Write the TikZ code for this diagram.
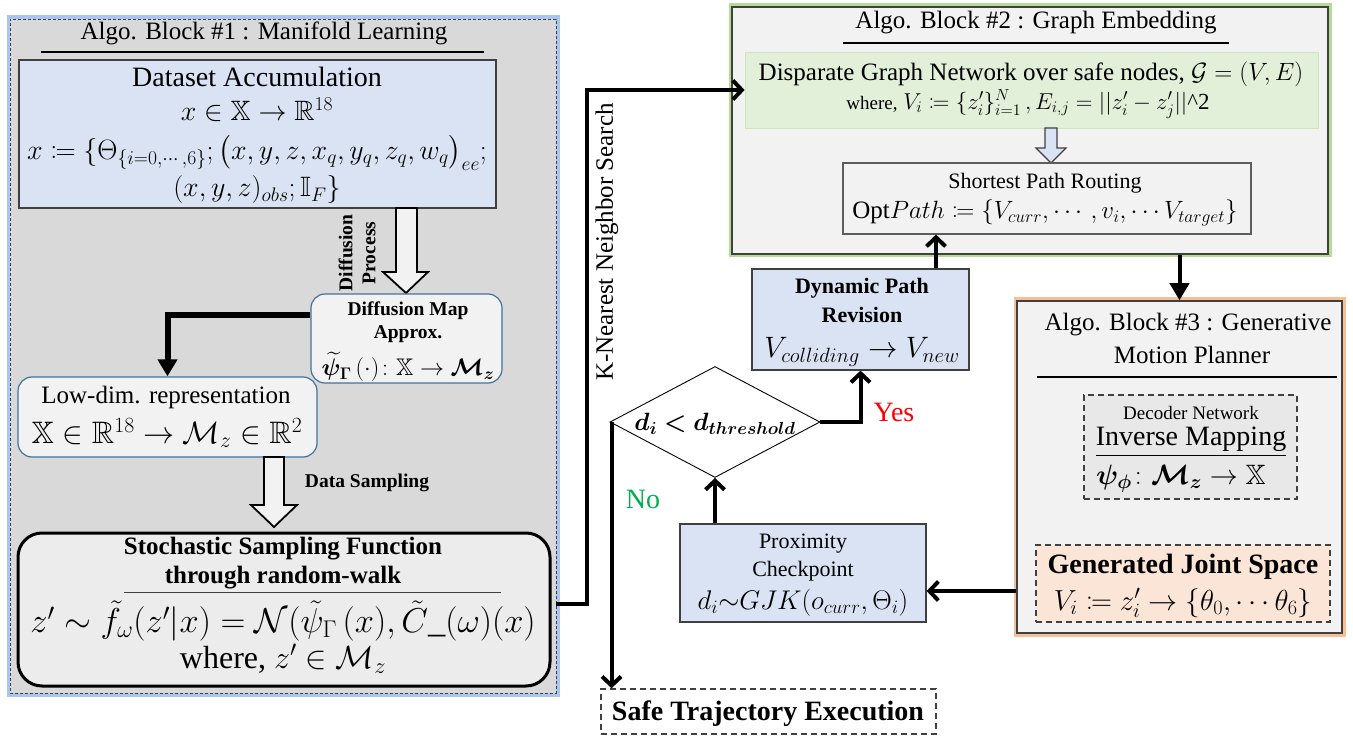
\RequirePackage{fix-cm}
\documentclass[tikz,border=0pt]{standalone}
\usepackage{amsmath,amssymb,mathtools,bm}
\usepackage{fontspec}
\setmainfont{Liberation Serif}
\usetikzlibrary{arrows.meta,shapes.geometric,calc}

\definecolor{panelgray}{HTML}{D9D9D9}
\definecolor{lightpanel}{HTML}{F2F2F2}
\definecolor{samplegray}{HTML}{ECECEC}
\definecolor{decodergray}{HTML}{E8E8E8}
\definecolor{paleblue}{HTML}{DAE3F3}
\definecolor{palegreen}{HTML}{E2EFD9}
\definecolor{greenedge}{HTML}{D0E4C0}
\definecolor{paleorange}{HTML}{FBE5D6}
\definecolor{edgeblue}{HTML}{41719C}
\definecolor{glowblue}{HTML}{A9C6F0}
\definecolor{glowgreen}{HTML}{B4DC96}
\definecolor{gloworange}{HTML}{F8BE96}
\definecolor{darkedge}{HTML}{404040}
\definecolor{yesred}{HTML}{FF0000}
\definecolor{nogreen}{HTML}{00B050}

\newcommand{\fsz}[1]{\fontsize{#1}{#1}\selectfont}

\begin{document}
\begin{tikzpicture}[x=1pt,y=-1pt,
  txt/.style={inner sep=0pt, anchor=center},
  box/.style={draw=darkedge, line width=1.2pt, inner sep=0pt},
  softbox/.style={draw=edgeblue, line width=1.2pt, inner sep=0pt, rounded corners=14pt, fill=lightpanel},
  panel/.style={draw=darkedge, line width=1.5pt, inner sep=0pt, fill=lightpanel},
  dashbox/.style={draw=darkedge, line width=1.5pt, dash pattern=on 6pt off 4pt, inner sep=0pt},
  hollowarrow/.style={draw=black, line width=1.8pt, fill=lightpanel, line join=miter},
  conn/.style={draw=black, line width=4pt},
  barb/.style={-{Straight Barb[length=9pt,width=19pt]}},
  tri/.style={-{Triangle[length=17pt,width=19pt]}}
]
\useasboundingbox (0,0) rectangle (1353,738);
\fill[white] (0,0) rectangle (1353,738);

% ---------------- Algo. Block #1 ----------------
\draw[line width=7pt, glowblue] (10,19) rectangle (556,693);
\node[draw=darkedge, dash pattern=on 3pt off 2pt, line width=0.9pt, fill=panelgray,
      minimum width=546pt, minimum height=674pt, inner sep=0pt] (b1) at (283,356) {};
\node[txt, font=\fsz{25}] (b1title) at (264,33) {Algo. Block \#1 : Manifold Learning};
\draw[line width=2.5pt] (41,52) -- (484,52);

\node[box, fill=paleblue, minimum width=477pt, minimum height=148pt] (ds) at (257.5,134) {};
\node[txt, font=\fsz{28}] at (257,77) {Dataset Accumulation};
\node[txt, font=\fsz{28}] at (257,110) {$x \in \mathbb{X} \rightarrow \mathbb{R}^{18}$};
\node[txt, font=\fsz{28}] at (257,153) {$x \coloneqq \{\Theta_{\{i=0,\cdots,6\}};\bigl(x,y,z,x_q,y_q,z_q,w_q\bigr)_{ee};$};
\node[txt, font=\fsz{28}] at (257,190) {$(x,y,z)_{obs};\mathbb{I}_F\}$};

% diffusion process arrow
\draw[hollowarrow] (396,208) -- (396,272) -- (383,272) -- (406,293) -- (428,272) -- (417,272) -- (417,208) -- cycle;
\node[txt, rotate=90, align=center, font=\fontsize{19.5}{23}\selectfont\bfseries] at (357,253) {Diffusion\\Process};

\node[softbox, minimum width=191pt, minimum height=89pt] (dm) at (406.5,338.5) {};
\node[txt, font=\fsz{19.5}\bfseries] at (408,311) {Diffusion Map};
\node[txt, font=\fsz{19.5}\bfseries] at (408,334) {Approx.};
\node[txt, font=\fsz{24}] at (408,367) {$\widetilde{\bm{\psi}}_{\bm{\Gamma}}\,(\cdot)\colon \mathbb{X}\rightarrow \bm{\mathcal{M}_z}$};

\node[softbox, minimum width=299pt, minimum height=80pt] (ld) at (167.5,417) {};
\node[txt, font=\fsz{25}] at (166,397) {Low-dim. representation};
\node[txt, font=\fsz{31}] at (167,433) {$\mathbb{X}\in\mathbb{R}^{18}\rightarrow\mathcal{M}_z\in\mathbb{R}^{2}$};

\draw[conn, line width=6pt, tri] ([yshift=23.5pt]dm.west) -| (ld.north);

% data sampling arrow
\draw[hollowarrow] (264,457) -- (264,505) -- (251,505) -- (274,527) -- (297,505) -- (284,505) -- (284,457) -- cycle;
\node[txt, font=\fsz{19.5}\bfseries] at (367,483) {Data Sampling};

\node[draw=black, line width=3pt, rounded corners=24pt, fill=samplegray, inner sep=0pt,
      minimum width=532pt, minimum height=153pt] (ss) at (284,609.5) {};
\node[txt, font=\fsz{25}\bfseries] at (283,549) {Stochastic Sampling Function};
\node[txt, font=\fsz{25}\bfseries] at (283,578) {through random-walk};
\draw[line width=1pt, darkedge] (124,592) -- (501,592);
\node[txt, font=\fsz{34.5}] at (283,621) {$z' \sim \tilde{f}_{\omega}(z'|x) = \mathcal{N}(\tilde{\psi}_{\Gamma}\,(x),\tilde{C}\_(\omega)(x)$};
\node[txt, font=\fsz{32}] at (283,659) {where, $z' \in \mathcal{M}_z$};

% ---------------- Algo. Block #2 ----------------
\draw[line width=7pt, glowgreen] (732,7) rectangle (1328,254);
\node[panel, minimum width=596pt, minimum height=247pt] (b2) at (1030,130.5) {};
\node[txt, font=\fsz{25}] at (1036,23) {Algo. Block \#2 : Graph Embedding};
\draw[line width=2pt] (843,43) -- (1229,43);

\node[draw=greenedge, line width=0.8pt, fill=palegreen, inner sep=0pt,
      minimum width=573pt, minimum height=76pt] (gb) at (1031.5,90) {};
\node[txt, font=\fsz{25}] at (1031,74) {Disparate Graph Network over safe nodes, $\mathcal{G} = (V, E)$};
\node[txt, font=\fsz{23}] at (1028,104) {{\fsz{19}where,} $V_i \coloneqq \{z_i'\}_{i=1}^{N}\,,E_{i,j} = ||z_i' - z_j'||$\textasciicircum 2};

\draw[draw=darkedge, line width=1.2pt, fill=paleblue] (1045,128) -- (1045,148) -- (1036,148) -- (1051,163) -- (1066,148) -- (1057,148) -- (1057,128) -- cycle;

\node[box, fill=lightpanel, draw=darkedge!85, minimum width=408pt, minimum height=71pt] (sp) at (1047,198.5) {};
\node[txt, font=\fsz{22}] at (1045,183) {Shortest Path Routing};
\node[txt, font=\fsz{25}] at (1045,213) {$\mathrm{Opt}Path \coloneqq \{V_{curr},\cdots,v_i,\cdots V_{target}\}$};

% ---------------- Algo. Block #3 ----------------
\draw[line width=7pt, gloworange] (1017,301) rectangle (1342,633);
\node[panel, minimum width=325pt, minimum height=332pt] (b3) at (1179.5,467) {};
\node[txt, font=\fsz{25}] at (1188,325) {Algo. Block \#3 : Generative};
\node[txt, font=\fsz{25}] at (1192,355) {Motion Planner};
\draw[line width=2pt] (1037,377) -- (1337,377);

\node[dashbox, fill=decodergray, minimum width=213pt, minimum height=104pt] (dec) at (1190.5,447) {};
\node[txt, font=\fsz{19}] at (1191,413) {Decoder Network};
\node[txt, font=\fsz{28}] at (1191,442) {\underline{Inverse Mapping}};
\node[txt, font=\fsz{28}] at (1181,479) {$\bm{\psi}_{\bm{\phi}}\colon\bm{\mathcal{M}_z}\rightarrow\mathbb{X}$};

\node[dashbox, fill=paleorange, minimum width=294pt, minimum height=77pt] (gen) at (1183,583.5) {};
\node[txt, font=\fsz{28}\bfseries] at (1183,567) {Generated Joint Space};
\node[txt, font=\fsz{29}] at (1183,603) {$V_i \coloneqq z_i' \rightarrow \{\theta_0,\cdots\theta_6\}$};

% ---------------- Path checking loop ----------------
\node[box, fill=paleblue, minimum width=217pt, minimum height=101pt] (dyn) at (860.5,319.5) {};
\node[txt, font=\fsz{22}\bfseries] at (862,288) {Dynamic Path};
\node[txt, font=\fsz{22}\bfseries] at (862,315) {Revision};
\node[txt, font=\fsz{29.5}] at (862,352) {$V_{colliding}\rightarrow V_{new}$};

\node[box, fill=paleblue, minimum width=246pt, minimum height=98pt] (prox) at (803,573) {};
\node[txt, font=\fsz{22}] at (803,544) {Proximity};
\node[txt, font=\fsz{22}] at (803,571) {Checkpoint};
\node[txt, font=\fsz{27}] at (803,603) {$d_i{\sim}GJK(o_{curr},\Theta_i)$};

\node[diamond, draw=black, line width=0.9pt, fill=white, inner sep=0pt,
      minimum width=210pt, minimum height=111pt] (dia) at (715,422) {};
\node[txt, font=\fsz{25}] at (715,424) {$\bm{d_i < d_{threshold}}$};

\node[dashbox, fill=white, minimum width=335pt, minimum height=45pt] (safe) at (768.5,711.5) {};
\node[txt, font=\fsz{28}\bfseries] at (768,714) {Safe Trajectory Execution};

\node[txt, rotate=90, font=\fsz{25}] (knn) at (607,242) {K-Nearest Neighbor Search};
\node[txt, font=\fsz{28}, text=yesred] at (894,412) {Yes};
\node[txt, font=\fsz{28}, text=nogreen] at (643,499) {No};

% ---------------- connectors ----------------
\draw[conn, barb] (b1.east |- 0,604) -- (587,604) |- (gb.west);
\draw[conn, tri] (b2.south -| b3.north) -- (b3.north);
\draw[conn, barb] (b3.west |- 0,591) -- (prox.east |- 0,591);
\draw[conn, barb] (prox.north -| dia.south) -- (dia.south);
\draw[conn, barb] (dia.east) -| (dyn.south);
\draw[conn, barb] (dyn.north -| 936,0) -- (sp.south -| 936,0);
\draw[conn, barb] ([xshift=2pt]dia.west) -- ([xshift=2pt]dia.west |- safe.north);
\end{tikzpicture}
\end{document}
